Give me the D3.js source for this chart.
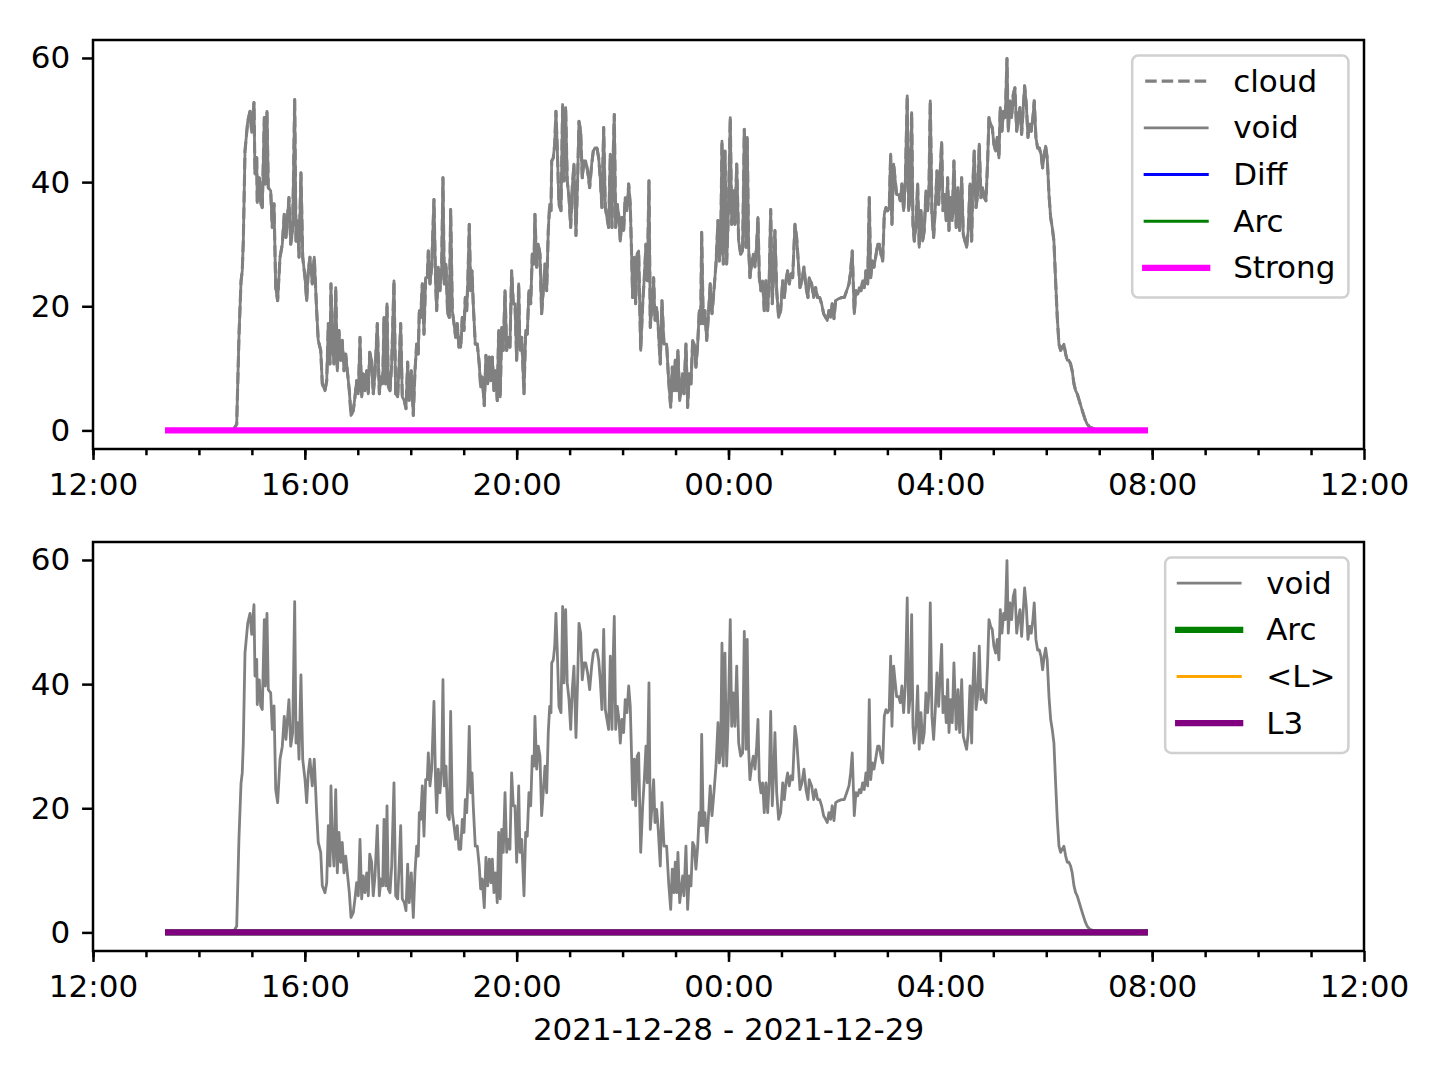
<!DOCTYPE html>
<html><head><meta charset="utf-8">
<script src="https://cdn.jsdelivr.net/npm/d3@7"></script>
<style>body{margin:0;background:#fff}svg{display:block}</style>
</head><body>
<svg id="chart" width="1440" height="1080"></svg>
<script>
// ---------- DATA ----------
const startDate = [2021, 11, 28, 12, 0];        // 2021-12-28 12:00 (axis start)
const endDate   = [2021, 11, 29, 12, 0];        // 2021-12-29 12:00 (axis end)
// minutes after 2021-12-28 12:00
const voidMinutes = [
81.6,158.6,162.8,165.4,167.7,169.1,170.3,172.2,175.3,177.9,
179.8,182.4,183.5,185.5,186.1,188.4,190.0,191.8,194.1,195.2,
197.1,198.6,201.3,203.1,205.1,207.0,209.2,211.9,214.5,216.7,
218.6,222.0,224.0,226.2,228.5,230.0,231.9,233.4,235.6,237.6,
240.2,242.1,243.9,245.8,248.4,250.7,253.4,255.2,258.0,259.8,
262.8,264.8,266.6,268.5,269.6,271.1,273.0,275.0,276.8,278.7,
280.6,282.4,284.4,286.3,288.5,290.4,292.3,294.9,296.8,298.7,
300.6,302.5,304.4,306.2,308.1,310.1,311.9,313.5,315.7,317.5,
319.5,322.1,324.4,326.3,328.2,329.7,331.6,333.1,334.5,336.5,
338.4,341.0,342.9,345.2,347.0,348.6,350.4,352.7,354.6,356.5,
358.3,360.6,362.9,364.8,366.7,368.5,369.7,371.2,373.1,375.0,
376.9,378.7,379.9,381.8,383.7,386.3,388.2,389.4,391.2,393.1,
395.0,396.5,398.0,399.9,401.8,403.7,405.2,407.1,409.0,410.9,
412.7,414.6,416.6,418.4,420.3,421.8,423.4,424.8,426.3,427.9,
429.4,430.8,433.1,435.4,437.6,439.2,441.0,443.3,445.2,447.2,
449.0,450.9,452.4,454.3,456.2,458.0,459.6,461.4,463.0,464.8,
466.8,468.7,470.5,472.4,474.3,476.2,478.1,480.0,482.3,483.7,
485.7,488.3,490.2,492.0,493.9,495.9,497.7,499.6,500.7,502.7,
504.5,506.4,508.3,510.1,512.1,514.0,515.8,517.4,518.9,519.7,
521.5,523.1,524.5,526.0,527.9,530.2,532.1,533.6,535.5,537.3,
539.3,541.2,543.0,544.9,547.2,549.1,550.6,552.5,554.3,556.3,
558.2,560.4,562.7,565.0,566.8,568.7,571.0,572.9,574.7,576.6,
578.6,580.4,582.3,584.2,586.1,588.0,589.5,590.6,592.2,594.0,
595.9,597.4,599.3,601.2,603.0,605.0,606.9,608.7,610.3,611.4,
613.3,614.8,616.6,618.2,620.5,622.8,624.6,626.5,628.0,629.9,
631.4,633.3,635.2,636.7,638.6,640.4,642.7,644.6,646.9,649.9,
652.2,654.5,656.3,658.2,659.7,661.3,662.7,664.7,666.5,668.1,
669.5,671.8,673.7,675.6,677.5,679.4,681.2,683.1,685.1,686.9,
688.5,689.6,691.4,693.3,695.3,697.1,699.3,701.3,703.5,705.8,
708.1,709.5,711.1,712.6,714.1,716.0,717.9,719.7,722.0,723.6,
725.4,727.3,729.3,731.5,733.8,736.0,737.9,739.8,741.2,742.8,
744.3,746.2,748.1,750.0,751.9,753.4,754.9,756.8,758.7,760.5,
762.4,764.4,766.2,767.8,769.6,771.5,772.6,774.6,776.8,779.1,
781.4,783.2,785.1,787.0,788.8,790.8,792.7,795.3,797.2,799.0,
801.0,803.2,805.5,807.8,810.0,811.5,814.2,816.5,818.7,821.0,
823.3,825.5,827.8,830.1,831.9,833.8,835.7,837.5,839.5,841.4,
844.4,848.2,851.2,853.9,856.5,858.4,860.2,862.5,864.4,866.4,
868.2,870.1,872.0,873.8,875.7,877.7,879.5,881.1,882.9,884.8,
886.7,889.0,890.8,892.7,894.7,896.5,898.4,900.3,902.1,903.7,
905.2,907.1,908.6,910.5,912.8,914.6,916.5,918.4,920.3,922.5,
924.1,925.9,927.5,929.0,930.5,932.4,934.3,936.1,938.0,940.0,
941.8,943.7,945.6,947.1,948.6,950.5,952.4,954.3,956.2,958.1,
959.9,961.5,963.0,964.9,966.7,968.3,969.8,971.7,973.5,975.4,
978.0,980.0,981.9,984.2,986.0,987.9,989.8,991.6,993.6,995.5,
996.6,998.4,1000.4,1002.3,1004.1,1006.0,1007.9,1009.8,1011.7,1013.6,
1015.1,1017.0,1018.8,1020.7,1022.7,1024.5,1026.4,1027.9,1029.8,1031.7,
1033.6,1035.5,1037.0,1038.9,1040.8,1042.6,1044.5,1046.5,1048.3,1050.2,
1052.1,1054.0,1055.5,1057.4,1059.3,1061.2,1063.0,1064.9,1066.4,1068.3,
1070.2,1072.1,1074.0,1075.9,1077.7,1079.3,1081.1,1083.1,1085.0,1086.8,
1088.7,1090.6,1092.5,1094.4,1096.3,1098.1,1100.0,1102.0,1103.8,1105.7,
1107.6,1109.4,1111.4,1113.3,1115.1,1117.4,1119.7,1121.9,1124.2,1126.4,
1129.5,1133.3,1136.3,1195.2
];
const voidValues = [
0,0,1,15.3,24,25.7,30.5,45,49.8,51.4,
48,52.8,41.3,44,36.7,40.7,36.5,35.9,50.4,39.7,
51.4,39.1,38.6,32.7,36.5,23,20.9,27.9,30,34.8,
31.1,37.5,30,32.2,53.3,30.5,33.8,27.9,41.5,27.9,
24.6,20.9,25.7,27.9,23.6,27.9,19.3,14.5,12.9,7.5,
6.4,8,17.2,10.7,23.6,15,10.7,23,9.6,16.1,
11.3,14.5,9.6,12.3,9.1,6.4,2.4,3.2,5.4,8,
5.9,15,5.4,9.1,6.4,9.6,5.9,12.6,11.3,5.9,
9.1,17.2,5.9,8.6,7.5,18.2,7.5,20.4,7,6.4,
10.7,24.1,5.9,5.4,11.3,17.2,5.4,4.8,3.5,11,
4.8,9.6,2.4,9.6,13.9,12.3,19.3,18.2,23.6,15.5,
24.6,24.6,28.9,23.6,26.3,37.2,23.6,19.3,26.3,22.5,
26.3,40.7,23.6,26.8,18.8,18.2,35.6,19.3,17.2,15,
17.2,13.4,13.4,18.2,16.1,21.4,19.3,24.6,33.2,22.5,
25.7,20.4,13.9,13.9,10.7,7,8.6,4,12.1,7.5,
11.8,8,11.8,6.4,9.6,4.8,16.1,5.4,16.6,12.9,
22.5,12.9,15,13.4,25.7,20.4,20.4,11.3,23.6,12.9,
15,5.9,16.1,15.5,22.5,20.4,28.4,26.8,34.8,26.3,
30,28.4,18.8,22.5,26.8,22.5,32.2,36.4,35.4,43.4,
43.9,46.1,51.4,45.5,36.4,35.4,52.5,40.2,52,40.2,
37.5,32.7,39.1,42.9,31.4,40.7,49.8,48.2,40.7,43.4,
43.4,41.8,39.1,42.9,45,45.5,45.5,43.9,40.7,35.9,
48.8,35.9,34.3,32.7,44.5,32.7,45,50.9,32.7,36.4,
34.3,30.5,34.3,32.2,37.5,35.4,39.7,36.4,27.9,21.4,
27.9,20.4,28.4,28.9,12.9,20.4,24.6,30,24.1,40.2,
16.6,20.4,24.6,17.7,19.8,16.6,10.7,20.9,13.9,13.9,
8,3.7,10.2,6.4,11.3,6.4,12.9,4.8,7,9.1,
5.9,13.9,3.7,9.1,7.5,14.5,13.9,10.2,13.9,19.3,
17.2,31.9,17.2,19.3,14.5,18.2,23.6,18.8,22.5,26.8,
33.8,27.3,28.9,46.6,26.8,45,26.8,34.3,50.4,33.2,
38.6,33.2,42.9,30.5,28.4,28.9,48.5,29.5,47.2,29.5,
24.6,26.8,28.4,26.3,30,34.3,24.6,22.5,24.1,19.3,
24.1,19.3,24.6,35.6,20.4,26.8,32.2,22.5,18.2,19.3,
24.1,21.4,24.1,25.7,23.6,25.2,24.6,33.2,31.1,27.3,
23,24.1,26.3,23,21.4,24.6,23.6,21.4,23,21.4,
21.4,20.4,18.8,18.2,17.7,19.3,18.2,20.4,18,20.9,
21.2,21.4,21.4,22.5,23.6,25.7,28.9,18.8,22.5,22,
23,22.5,24.1,23,25.7,23.6,37.5,24.6,27.3,26.3,
27.9,30,30,28.4,27.3,34.8,35.9,35.4,35.9,44.5,
33.2,42.9,40.7,38,38,37,39.7,35.4,39.7,53.9,
35.4,38,51.2,33.2,30.5,33.2,39.7,29.5,35.4,30.5,
32.2,38.6,35.4,38.6,53.1,34.8,31.1,35.9,41.8,36.4,
41.8,46.4,35.4,38,33.8,40.7,32.2,37.5,33.8,43.4,
32.7,39.1,32.2,40.7,31.6,30.5,29.5,32.2,39.7,30.5,
38.6,45,35.9,38,46.1,37.5,39.1,37.5,37,43.4,
50.4,49.3,48.8,46.1,45,47.2,43.9,52,48.2,51.4,
50.4,59.9,48.2,53.1,50.4,54.1,55.2,48.2,50.4,52,
47.7,52,55.5,52.5,47.2,49.3,48.2,50.4,53.1,47.2,
45.5,45.5,44.5,42.3,44.5,45.8,43.9,38,34.3,32.7,
30.5,24.1,18.2,13.9,12.9,13.4,13.9,12.3,11.3,11.3,
10.7,9.6,7.5,6.4,5.9,4.8,3.7,2.7,1.7,1,
0.5,0.3,0,0
];
const cloudMinutes = voidMinutes;
const cloudValues  = voidValues;
// flat series (all zero over the same period)
const flatMinutes  = [81.6, 1195.2];
const diffValues   = [0, 0];
const arcValues    = [0, 0];
const strongValues = [0, 0];
const meanLValues  = [0, 0];
const l3Values     = [0, 0];

const topNames    = ["cloud", "void", "Diff", "Arc", "Strong"];
const bottomNames = ["void", "Arc", "<L>", "L3"];
const xTickHours  = [0, 4, 8, 12, 16, 20, 24];   // hours after axis start
const xTickLabels = ["12:00", "16:00", "20:00", "00:00", "04:00", "08:00", "12:00"];
const yTicks      = [0, 20, 40, 60];
const xAxisTitle  = "2021-12-28 - 2021-12-29";

// ---------- STYLE ----------
const styles = {
  cloud:  {color:"#808080", width:3.1, dash:"11.5,5"},
  void:   {color:"#808080", width:2.8, dash:null},
  Diff:   {color:"#0000ff", width:3.1, dash:null},
  ArcTop: {color:"#008000", width:3.1, dash:null},
  Strong: {color:"#ff00ff", width:6.25, dash:null},
  ArcBot: {color:"#008000", width:6.25, dash:null},
  meanL:  {color:"#ffa500", width:3.1, dash:null},
  L3:     {color:"#800080", width:6.25, dash:null}
};
const FONT = "DejaVu Sans";
const FS = 31;

const t0 = new Date(...startDate);
const t1 = new Date(...endDate);
const toDate = m => new Date(t0.getTime() + m * 60000);

function makeSeries(mins, vals){ return mins.map((m,i)=>({t:toDate(m), v:vals[i]})); }

const panels = [
  {top:40, bottom:449, names: topNames, series:[
      {d:makeSeries(cloudMinutes, cloudValues), s:styles.cloud},
      {d:makeSeries(voidMinutes, voidValues), s:styles.void},
      {d:makeSeries(flatMinutes, diffValues), s:styles.Diff},
      {d:makeSeries(flatMinutes, arcValues), s:styles.ArcTop},
      {d:makeSeries(flatMinutes, strongValues), s:styles.Strong}]},
  {top:542, bottom:951, names: bottomNames, series:[
      {d:makeSeries(voidMinutes, voidValues), s:styles.void},
      {d:makeSeries(flatMinutes, arcValues), s:styles.ArcBot},
      {d:makeSeries(flatMinutes, meanLValues), s:styles.meanL},
      {d:makeSeries(flatMinutes, l3Values), s:styles.L3}]}
];

const svg = d3.select("#chart");
const left = 93, right = 1364;
const x = d3.scaleTime().domain([t0, t1]).range([left, right]);
const vmax = d3.max(voidValues), vmin = 0;
const pad = (vmax - vmin) * 0.05;

panels.forEach(p => {
  const y = d3.scaleLinear().domain([vmin - pad, vmax + pad]).range([p.bottom, p.top]);
  const g = svg.append("g");
  const clipId = "clip" + p.top;
  svg.append("clipPath").attr("id", clipId).append("rect")
    .attr("x", left).attr("y", p.top).attr("width", right-left).attr("height", p.bottom-p.top);

  const line = d3.line().x(d => x(d.t)).y(d => y(d.v));
  const lg = g.append("g").attr("clip-path", `url(#${clipId})`);
  p.series.forEach(s => {
    lg.append("path").datum(s.d).attr("d", line)
      .attr("fill","none").attr("stroke", s.s.color).attr("stroke-width", s.s.width)
      .attr("stroke-linejoin","round").attr("stroke-linecap","butt")
      .attr("stroke-dasharray", s.s.dash);
  });

  // minor ticks (hourly)
  const minor = d3.timeHour.every(1).range(t0, t1);
  const xMinor = d3.axisBottom(x).tickValues(minor).tickSize(6.25).tickFormat("");
  const gm = g.append("g").attr("transform", `translate(0,${p.bottom})`).call(xMinor);
  gm.select(".domain").remove();
  gm.selectAll("line").attr("stroke","#000").attr("stroke-width",2.5);

  // major x ticks
  const majorDates = xTickHours.map(h => toDate(h*60));
  const xAxis = d3.axisBottom(x).tickValues(majorDates).tickSize(10.9).tickPadding(13)
      .tickFormat((d,i) => xTickLabels[i]);
  const gx = g.append("g").attr("transform", `translate(0,${p.bottom})`).call(xAxis);
  gx.select(".domain").remove();
  gx.selectAll("line").attr("stroke","#000").attr("stroke-width",2.5);
  gx.selectAll("text").attr("font-family", FONT).attr("font-size", FS).attr("fill","#000");

  const yAxis = d3.axisLeft(y).tickValues(yTicks).tickSize(10.9).tickPadding(12);
  const gy = g.append("g").attr("transform", `translate(${left},0)`).call(yAxis);
  gy.select(".domain").remove();
  gy.selectAll("line").attr("stroke","#000").attr("stroke-width",2.5);
  gy.selectAll("text").attr("font-family", FONT).attr("font-size", FS).attr("fill","#000");

  // spines
  g.append("rect").attr("x", left).attr("y", p.top).attr("width", right-left).attr("height", p.bottom-p.top)
    .attr("fill","none").attr("stroke","#000").attr("stroke-width",2.5);

  // legend
  const rowH = 46.7;
  const lgG = g.append("g");
  const texts = p.names.map((n,i) => lgG.append("text").text(n)
      .attr("font-family", FONT).attr("font-size", FS).attr("fill","#000"));
  const maxW = d3.max(texts, t => t.node().getComputedTextLength());
  const boxW = 101 + maxW + 13;
  const boxH = p.names.length * rowH + 8.5;
  const bx = right - 15.6 - boxW, by = p.top + 15.6;
  lgG.insert("rect", ":first-child").attr("x", bx).attr("y", by).attr("width", boxW).attr("height", boxH)
    .attr("rx", 6).attr("fill","#fff").attr("fill-opacity",0.8)
    .attr("stroke","#d0d0d0").attr("stroke-width",2.5);
  p.names.forEach((n,i) => {
    const cy = by + 25.5 + i * rowH;
    const s = p.series[i].s;
    lgG.append("line").attr("x1", bx + 13).attr("x2", bx + 75).attr("y1", cy).attr("y2", cy)
      .attr("stroke", s.color).attr("stroke-width", s.width).attr("stroke-linecap", s.dash ? "butt" : "square")
      .attr("stroke-dasharray", s.dash);
    texts[i].attr("x", bx + 101).attr("y", cy).attr("dy", "0.34em");
  });
});

svg.append("text").attr("x", (left+right)/2).attr("y", 1040).attr("text-anchor","middle")
  .attr("font-family", FONT).attr("font-size", FS).attr("fill","#000").text(xAxisTitle);
</script>
</body></html>
